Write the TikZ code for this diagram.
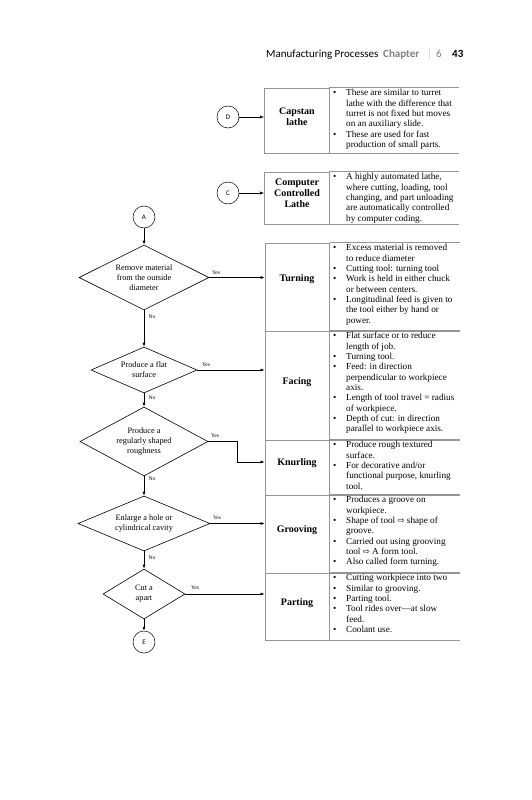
\documentclass[tikz,border=0pt]{standalone}
\usepackage{fontspec}
\setmainfont{Liberation Serif}
\newfontfamily\hdrfont{Carlito}
\newfontfamily\symfont{DejaVu Sans}
\usetikzlibrary{shapes.geometric,arrows.meta}
\definecolor{tabgray}{gray}{0.58}
\definecolor{hdrgray}{gray}{0.5}
\definecolor{bargray}{gray}{0.78}
\newcommand{\warr}{{\symfont\fontsize{8.5}{8}\selectfont ⇨}}
\newcommand{\bl}{\textbullet&}
\newcommand{\cl}{&}
\newenvironment{blist}{\begin{tabular}{@{}p{13pt}@{}l@{}}}{\end{tabular}}
\tikzset{
 flow/.style={draw, line width=0.6pt, -{Latex[length=4pt,width=3pt]}},
 dia/.style={shape=diamond, draw, line width=0.6pt, inner sep=0pt, aspect=2, align=center, font=\fontsize{8.3}{10}\selectfont},
 conn/.style={circle, draw, line width=0.5pt, minimum size=22pt, inner sep=0pt, font=\hdrfont\fontsize{7}{8}\selectfont},
 yn/.style={inner sep=0pt, font=\fontsize{5.5}{6}\selectfont},
 cell/.style={draw=tabgray, line width=0.7pt, minimum width=64.5pt, inner sep=0pt},
 tlabel/.style={align=center, font=\bfseries\fontsize{10}{11}\selectfont, inner sep=0pt},
 btext/.style={anchor=north west, inner sep=0pt, font=\fontsize{9.2}{10.3}\selectfont},
 tabrule/.style={draw=tabgray, line width=0.7pt},
 hdr/.style={anchor=base west, inner sep=0pt, font=\hdrfont\fontsize{11}{13}\selectfont},
}
\begin{document}
\begin{tikzpicture}[x=1pt,y=-1pt]
\useasboundingbox[fill=white] (0,0) rectangle (531,800);

% header
\node[hdr] (h1) at (266,58) {Manufacturing Processes};
\node[hdr, text=hdrgray, font=\hdrfont\bfseries\fontsize{11}{13}\selectfont] (h2) at (383,58) {Chapter};
\node[hdr, text=bargray] (h3) at (427,58) {|};
\node[hdr, text=hdrgray] (h4) at (436,58) {6};
\node[hdr, font=\hdrfont\bfseries\fontsize{11}{13}\selectfont] (h5) at (452,58) {43};

% Capstan lathe
\node[conn] (D) at (228,117) {D};
\node[cell, minimum height=65pt] (capcell) at (296.75,120.5) {};
\draw[tabrule] (capcell.north east) -- ++(130,0);
\draw[tabrule] (capcell.south east) -- ++(130,0);
\node[tlabel] (caplab) at (297,117) {Capstan\\lathe};
\node[btext] (captext) at (333,88.5) {\begin{blist}
\bl These are similar to turret\\
\cl lathe with the difference that\\
\cl turret is not fixed but moves\\
\cl on an auxiliary slide.\\
\bl These are used for fast\\
\cl production of small parts.
\end{blist}};
\draw[flow] (D) -- (D -| capcell.west);

% Computer controlled lathe
\node[conn] (C) at (228,193) {C};
\node[cell, minimum height=52pt] (cnccell) at (296.75,198) {};
\draw[tabrule] (cnccell.north east) -- ++(130,0);
\draw[tabrule] (cnccell.south east) -- ++(130,0);
\node[tlabel] (cnclab) at (297,193) {Computer\\Controlled\\Lathe};
\node[btext] (cnctext) at (333,172.5) {\begin{blist}
\bl A highly automated lathe,\\
\cl where cutting, loading, tool\\
\cl changing, and part unloading\\
\cl are automatically controlled\\
\cl by computer coding.
\end{blist}};
\draw[flow] (C) -- (C -| cnccell.west);

% main table cells
\node[cell, minimum height=88pt] (turncell) at (297.25,287) {};
\node[cell, minimum height=109pt] (facecell) at (297.25,385.5) {};
\node[cell, minimum height=55pt] (knurlcell) at (297.25,467.5) {};
\node[cell, minimum height=78pt] (groovecell) at (297.25,534) {};
\node[cell, minimum height=67pt] (partcell) at (297.25,606.5) {};
\foreach \c in {turncell,facecell,knurlcell,groovecell,partcell}{
  \draw[tabrule] (\c.north east) -- ++(130,0);
  \draw[tabrule] (\c.south east) -- ++(130,0);
}
\node[tlabel] (turnlab) at (297,279) {Turning};
\node[tlabel] (facelab) at (297,382) {Facing};
\node[tlabel] (knurllab) at (297,463) {Knurling};
\node[tlabel] (groovelab) at (297,530) {Grooving};
\node[tlabel] (partlab) at (297,603) {Parting};

\node[btext] (turntext) at (333,243.5) {\begin{blist}
\bl Excess material is removed\\
\cl to reduce diameter\\
\bl Cutting tool: turning tool\\
\bl Work is held in either chuck\\
\cl or between centers.\\
\bl Longitudinal feed is given to\\
\cl the tool either by hand or\\
\cl power.
\end{blist}};
\node[btext] (facetext) at (333,331.5) {\begin{blist}
\bl Flat surface or to reduce\\
\cl length of job.\\
\bl Turning tool.\\
\bl Feed: in direction\\
\cl perpendicular to workpiece\\
\cl axis.\\
\bl Length of tool travel = radius\\
\cl of workpiece.\\
\bl Depth of cut: in direction\\
\cl parallel to workpiece axis.
\end{blist}};
\node[btext] (knurltext) at (333,440.5) {\begin{blist}
\bl Produce rough textured\\
\cl surface.\\
\bl For decorative and/or\\
\cl functional purpose, knurling\\
\cl tool.
\end{blist}};
\node[btext] (groovetext) at (333,495.5) {\begin{blist}
\bl Produces a groove on\\
\cl workpiece.\\
\bl Shape of tool \warr{} shape of\\
\cl groove.\\
\bl Carried out using grooving\\
\cl tool \warr{} A form tool.\\
\bl Also called form turning.
\end{blist}};
\node[btext] (parttext) at (333,573.5) {\begin{blist}
\bl Cutting workpiece into two\\
\bl Similar to grooving.\\
\bl Parting tool.\\
\bl Tool rides over—at slow\\
\cl feed.\\
\bl Coolant use.
\end{blist}};

% flowchart
\node[conn] (A) at (144,217) {A};
\node[dia, minimum width=130pt, minimum height=65pt] (d1) at (144,277.5) {Remove material\\from the outside\\diameter};
\node[dia, minimum width=106pt, minimum height=46pt] (d2) at (144,370) {Produce a flat\\surface};
\node[dia, minimum width=128pt, minimum height=69pt] (d3) at (144,441.5) {Produce a\\regularly shaped\\roughness};
\node[dia, minimum width=132pt, minimum height=55pt] (d4) at (144,523.5) {Enlarge a hole or\\cylindrical cavity};
\node[dia, minimum width=82pt, minimum height=50pt] (d5) at (144,594) {Cut a\\apart};
\node[conn] (E) at (144,642) {E};

\draw[flow] (A) -- (d1.north);
\draw[flow] (d1.south) -- (d2.north);
\draw[flow] (d2.south) -- (d3.north);
\draw[flow] (d3.south) -- (d4.north);
\draw[flow] (d4.south) -- (d5.north);
\draw[flow] (d5.south) -- (E);

\draw[flow] (d1.east) -- (d1.east -| turncell.west);
\draw[flow] (d2.east) -- (d2.east -| facecell.west);
\coordinate (kbend) at (237,462);
\draw[flow] (d3.east) -| (kbend) -- (kbend -| knurlcell.west);
\draw[flow] (d4.east) -- (d4.east -| groovecell.west);
\draw[flow] (d5.east) -- (d5.east -| partcell.west);

\node[yn] (y1) at (216,273) {Yes};
\node[yn] (y2) at (206,365) {Yes};
\node[yn] (y3) at (215,436) {Yes};
\node[yn] (y4) at (217,518) {Yes};
\node[yn] (y5) at (195,588) {Yes};
\node[yn] (n1) at (152,317) {No};
\node[yn] (n2) at (152,398) {No};
\node[yn] (n3) at (152,479) {No};
\node[yn] (n4) at (152,558) {No};
\end{tikzpicture}
\end{document}
